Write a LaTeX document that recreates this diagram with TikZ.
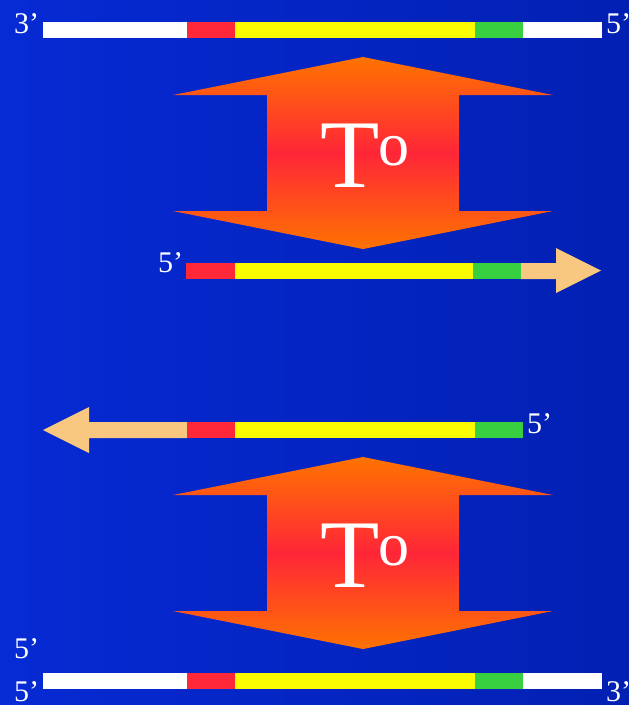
\documentclass[tikz,border=0pt]{standalone}
\usepackage{fontspec}
\setmainfont{Liberation Serif}
\begin{document}
\begin{tikzpicture}[x=1pt,y=-1pt]
\definecolor{bgL}{RGB}{6,42,212}
\definecolor{bgR}{RGB}{2,32,178}
\definecolor{sred}{RGB}{255,40,56}
\definecolor{syel}{RGB}{250,250,0}
\definecolor{sgrn}{RGB}{56,208,64}
\definecolor{stan}{RGB}{248,200,128}
\definecolor{aor}{RGB}{255,115,0}
\definecolor{ared}{RGB}{255,38,56}
\tikzset{
  lab/.style={text=white,font=\fontsize{30}{30}\selectfont,inner sep=0pt,anchor=base west},
  bigT/.style={text=white,font=\fontsize{97}{97}\selectfont,inner sep=0pt,anchor=base west},
  bigO/.style={text=white,font=\fontsize{62}{62}\selectfont,inner sep=0pt,anchor=base west},
  dbl/.style={top color=aor,bottom color=aor,middle color=ared}
}
\useasboundingbox (0,0) rectangle (629,705);
\shade[left color=bgL,right color=bgR] (0,0) rectangle (629,705);
% top strand
\fill[white] (43,22) rectangle (187,38);
\fill[sred] (187,22) rectangle (235,38);
\fill[syel] (235,22) rectangle (475,38);
\fill[sgrn] (475,22) rectangle (523,38);
\fill[white] (523,22) rectangle (602,38);
\node[lab] (l1) at (14,33) {3’};
\node[lab] (l2) at (606,33) {5’};
% double arrow 1
\shade[dbl] (363,57) -- (553,95) -- (459,95) -- (459,211) -- (553,211) -- (363,249)
  -- (173,211) -- (267,211) -- (267,95) -- (173,95) -- cycle;
\node[bigT] (t1) at (320.5,187) {T};
\node[bigO] (o1) at (378,165) {o};
% middle arrow
\fill[stan] (521,263) -- (556,263) -- (556,248) -- (601,270.5) -- (556,293) -- (556,279) -- (521,279) -- cycle;
\fill[sred] (186,263) rectangle (235,279);
\fill[syel] (235,263) rectangle (473,279);
\fill[sgrn] (473,263) rectangle (521,279);
\node[lab] (l3) at (158,272) {5’};
% lower arrow
\fill[stan] (187,422) -- (89,422) -- (89,407) -- (43,430) -- (89,453) -- (89,438) -- (187,438) -- cycle;
\fill[sred] (187,422) rectangle (235,438);
\fill[syel] (235,422) rectangle (475,438);
\fill[sgrn] (475,422) rectangle (523,438);
\node[lab] (l4) at (527,433) {5’};
% double arrow 2
\begin{scope}[shift={(0,400)}]
\shade[dbl] (363,57) -- (553,95) -- (459,95) -- (459,211) -- (553,211) -- (363,249)
  -- (173,211) -- (267,211) -- (267,95) -- (173,95) -- cycle;
\node[bigT] (t2) at (320.5,187) {T};
\node[bigO] (o2) at (378,165) {o};
\end{scope}
% bottom strand
\fill[white] (43,673) rectangle (187,689);
\fill[sred] (187,673) rectangle (235,689);
\fill[syel] (235,673) rectangle (475,689);
\fill[sgrn] (475,673) rectangle (523,689);
\fill[white] (523,673) rectangle (602,689);
\node[lab] (l5) at (14,658) {5’};
\node[lab] (l6) at (14,701) {5’};
\node[lab] (l7) at (606,701) {3’};
\end{tikzpicture}
\end{document}
